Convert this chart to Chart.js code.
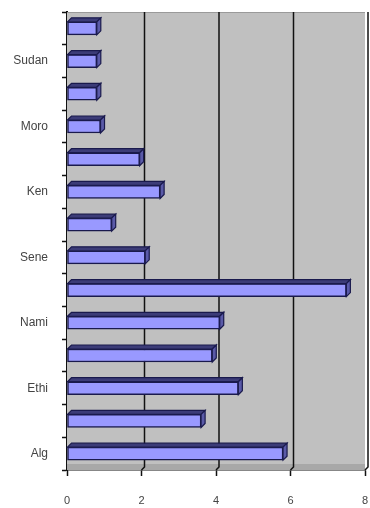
<!DOCTYPE html>
<html>
<head>
<meta charset="utf-8">
<script src="https://cdn.jsdelivr.net/npm/chart.js@4"></script>
<style>
  body { margin: 0; background: #fff; }
</style>
</head>
<body>
<canvas id="chart" width="370" height="508"></canvas>
<script>
// categories from bottom to top (only every other one is labelled)
var categories = ['Alg', '', 'Ethi', '', 'Nami', '', 'Sene', '', 'Ken', '', 'Moro', '', 'Sudan', ''];
var values = [5.8, 3.6, 4.6, 3.9, 4.1, 7.5, 2.1, 1.2, 2.5, 1.95, 0.9, 0.8, 0.8, 0.8];
var xTicks = [0, 2, 4, 6, 8];

// gray back wall behind the bars, with gridlines pushed back by the 3D depth
const plotBack = {
  id: 'plotBack',
  beforeDatasetsDraw(chart) {
    const a = chart.chartArea;
    const ctx = chart.ctx;
    const xs = chart.scales.x;
    const d = 3;
    ctx.save();
    ctx.fillStyle = '#c0c0c0';
    ctx.fillRect(a.left, a.top, a.right - a.left, a.bottom - a.top);
    // floor strip
    ctx.fillStyle = '#a8a8a8';
    ctx.fillRect(a.left, a.bottom - 6, a.right - a.left, 6);
    ctx.strokeStyle = '#9a9a9a';
    ctx.lineWidth = 1;
    ctx.beginPath();
    ctx.moveTo(a.left, a.top + 0.5);
    ctx.lineTo(a.right, a.top + 0.5);
    ctx.stroke();
    // gridlines
    ctx.strokeStyle = '#111';
    ctx.lineWidth = 1.5;
    xTicks.forEach(function(v) {
      if (v === 0) return;
      const px = Math.min(xs.getPixelForValue(v) + d, a.right + d);
      ctx.beginPath();
      ctx.moveTo(px, a.top);
      ctx.lineTo(px, a.bottom - d);
      ctx.lineTo(px - d, a.bottom);
      ctx.stroke();
    });
    ctx.restore();
  }
};

// fake 3D: top and right faces on each bar
const bar3d = {
  id: 'bar3d',
  afterDatasetsDraw(chart) {
    const ctx = chart.ctx;
    const d = 4;
    chart.getDatasetMeta(0).data.forEach(function(bar) {
      const top = bar.y - bar.height / 2;
      const bottom = bar.y + bar.height / 2;
      ctx.save();
      ctx.strokeStyle = '#1a1a4d';
      ctx.lineWidth = 1.2;
      // top face
      ctx.fillStyle = '#3c3c78';
      ctx.beginPath();
      ctx.moveTo(bar.base, top);
      ctx.lineTo(bar.base + d, top - d);
      ctx.lineTo(bar.x + d, top - d);
      ctx.lineTo(bar.x, top);
      ctx.closePath();
      ctx.fill();
      ctx.stroke();
      // right face
      ctx.fillStyle = '#5a5aa8';
      ctx.beginPath();
      ctx.moveTo(bar.x, top);
      ctx.lineTo(bar.x + d, top - d);
      ctx.lineTo(bar.x + d, bottom - d);
      ctx.lineTo(bar.x, bottom);
      ctx.closePath();
      ctx.fill();
      ctx.stroke();
      ctx.restore();
    });
  }
};

function noPad(scale) {
  scale.paddingTop = 0;
  scale.paddingBottom = 0;
  scale.paddingLeft = 0;
  scale.paddingRight = 0;
}

chart = new Chart(document.getElementById('chart'), {
  type: 'bar',
  data: {
    labels: categories,
    datasets: [{
      label: 'Series1',
      data: values,
      backgroundColor: '#9999ff',
      borderColor: '#1a1a4d',
      borderWidth: 1.5,
      borderSkipped: false,
      barThickness: 13
    }]
  },
  options: {
    indexAxis: 'y',
    responsive: false,
    animation: false,
    layout: { padding: { top: 12, right: 5, left: 0, bottom: 0 } },
    plugins: { legend: { display: false }, tooltip: { enabled: false } },
    scales: {
      x: {
        min: 0,
        max: 8,
        afterFit(scale) { scale.height = 38; noPad(scale); },
        afterBuildTicks(scale) { scale.ticks = xTicks.map(v => ({ value: v })); },
        ticks: {
          padding: 18,
          color: '#444',
          font: { family: 'Liberation Sans', size: 11 }
        },
        grid: { drawOnChartArea: false, tickLength: 6, tickColor: '#111', tickWidth: 1.5 },
        border: { display: true, color: '#111', width: 1.5 }
      },
      y: {
        reverse: true,
        offset: true,
        afterFit(scale) { scale.width = 67; noPad(scale); },
        ticks: {
          autoSkip: false,
          padding: 14,
          color: '#444',
          font: { family: 'Liberation Sans', size: 12 }
        },
        grid: { offset: true, drawOnChartArea: false, tickLength: 5, tickColor: '#111', tickWidth: 1.5 },
        border: { display: true, color: '#111', width: 2 }
      }
    }
  },
  plugins: [plotBack, bar3d]
});
</script>
</body>
</html>
